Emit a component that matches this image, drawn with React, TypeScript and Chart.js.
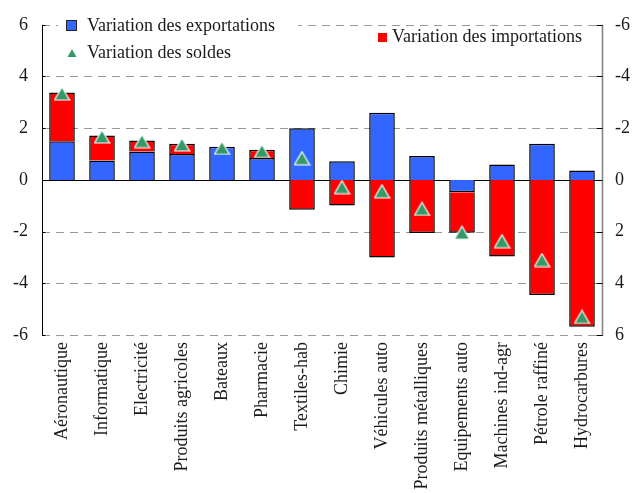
import React, { useEffect, useRef } from "react";
import { Chart, registerables } from "chart.js";

Chart.register(...registerables);

const categories = [
  "Aéronautique",
  "Informatique",
  "Electricité",
  "Produits agricoles",
  "Bateaux",
  "Pharmacie",
  "Textiles-hab",
  "Chimie",
  "Véhicules auto",
  "Produits métalliques",
  "Equipements auto",
  "Machines ind-agr",
  "Pétrole raffiné",
  "Hydrocarbures",
];

// Variation des exportations (left axis)
const exportations = [1.5, 0.75, 1.1, 1.0, 1.28, 0.85, 2.0, 0.72, 2.6, 0.92, -0.48, 0.6, 1.4, 0.36];
// Variation des importations (read on the reversed right axis: positive = increase)
const importations = [-1.88, -0.97, -0.42, -0.4, 0, -0.32, 1.15, 0.99, 3.0, 2.05, 1.56, 2.96, 4.45, 5.68];
// Variation des soldes
const soldes = [3.34, 1.68, 1.5, 1.37, 1.24, 1.12, 0.84, -0.28, -0.44, -1.12, -2.04, -2.37, -3.1, -5.3];

const leftTicks = [-6, -4, -2, 0, 2, 4, 6];

const BLUE = "#3366ff";
const RED = "#ff0000";
const GREEN = "#339966";
const FONT = "'Liberation Serif', 'Times New Roman', serif";

function makeTriangle(): HTMLCanvasElement {
  const c = document.createElement("canvas");
  c.width = 17;
  c.height = 15;
  const g = c.getContext("2d")!;
  g.beginPath();
  g.moveTo(8.5, 1);
  g.lineTo(16, 14);
  g.lineTo(1, 14);
  g.closePath();
  g.fillStyle = GREEN;
  g.fill();
  g.strokeStyle = "#ffffff";
  g.lineWidth = 1.2;
  g.stroke();
  return c;
}

const decorPlugin = {
  id: "decor",
  beforeDatasetsDraw(chart: any) {
    const { ctx, chartArea } = chart;
    const y = chart.scales.y;
    ctx.save();
    ctx.lineWidth = 1;
    for (const v of leftTicks) {
      const py = Math.round(y.getPixelForValue(v)) + 0.5;
      if (v === 0) continue;
      ctx.strokeStyle = "#999999";
      ctx.setLineDash([8, 6]);
      ctx.beginPath();
      ctx.moveTo(chartArea.left, py);
      ctx.lineTo(chartArea.right, py);
      ctx.stroke();
    }
    ctx.setLineDash([]);
    const z = Math.round(y.getPixelForValue(0)) + 0.5;
    ctx.strokeStyle = "#000";
    ctx.beginPath();
    ctx.moveTo(chartArea.left, z);
    ctx.lineTo(chartArea.right, z);
    ctx.stroke();
    ctx.restore();
  },
  afterDatasetsDraw(chart: any) {
    const { ctx, chartArea } = chart;
    const y = chart.scales.y;
    ctx.save();
    ctx.fillStyle = "#ffffff";
    ctx.fillRect(58, 12, 240, 54);
    const lx = Math.round(chartArea.left) + 0.5;
    ctx.strokeStyle = "#000";
    ctx.lineWidth = 1;
    ctx.beginPath();
    ctx.moveTo(lx, chartArea.top);
    ctx.lineTo(lx, chartArea.bottom + 1);
    ctx.stroke();
    const rx = Math.round(chartArea.right) + 0.5;
    ctx.strokeStyle = "#808080";
    ctx.lineWidth = 1.5;
    ctx.beginPath();
    ctx.moveTo(rx, chartArea.top);
    ctx.lineTo(rx, chartArea.bottom + 1);
    ctx.stroke();
    ctx.lineWidth = 1;
    ctx.strokeStyle = "#000";
    for (const v of leftTicks) {
      const py = Math.round(y.getPixelForValue(v)) + 0.5;
      ctx.beginPath();
      ctx.moveTo(lx, py);
      ctx.lineTo(lx + 3, py);
      ctx.stroke();
      ctx.beginPath();
      ctx.moveTo(rx - 6, py);
      ctx.lineTo(rx, py);
      ctx.stroke();
    }
    ctx.restore();
  },
  afterDraw(chart: any) {
    const { ctx } = chart;
    ctx.save();
    ctx.font = `18px ${FONT}`;
    ctx.textBaseline = "middle";
    ctx.fillStyle = BLUE;
    ctx.fillRect(66, 20, 11, 11);
    ctx.strokeStyle = "#222";
    ctx.lineWidth = 1;
    ctx.strokeRect(66.5, 20.5, 10, 10);
    ctx.fillStyle = "#1a1a1a";
    ctx.fillText("Variation des exportations", 87, 26);
    ctx.fillStyle = GREEN;
    ctx.beginPath();
    ctx.moveTo(72, 49);
    ctx.lineTo(76.5, 57);
    ctx.lineTo(67.5, 57);
    ctx.closePath();
    ctx.fill();
    ctx.fillStyle = "#1a1a1a";
    ctx.fillText("Variation des soldes", 87, 53);
    ctx.fillStyle = RED;
    ctx.fillRect(378, 33, 9, 9);
    ctx.fillStyle = "#1a1a1a";
    ctx.fillText("Variation des importations", 392, 37);
    ctx.restore();
  },
};

export default function App() {
  const ref = useRef<HTMLCanvasElement | null>(null);

  useEffect(() => {
    if (!ref.current) return;
    const tri = makeTriangle();
    const chart = new Chart(ref.current, {
      type: "bar",
      data: {
        labels: categories,
        datasets: [
          {
            type: "bar",
            label: "Variation des exportations",
            data: exportations,
            backgroundColor: BLUE,
            borderColor: "#000",
            borderWidth: 1.5,
            barPercentage: 0.64,
            categoryPercentage: 1,
            yAxisID: "y",
            order: 0,
          },
          {
            type: "bar",
            label: "Variation des importations",
            data: importations.map((v) => -v),
            backgroundColor: RED,
            borderColor: "#000",
            borderWidth: 1.5,
            barPercentage: 0.64,
            categoryPercentage: 1,
            yAxisID: "y",
            order: 0,
          },
          {
            type: "line",
            label: "Variation des soldes",
            data: soldes,
            showLine: false,
            pointStyle: tri,
            pointRadius: 8,
            yAxisID: "y",
            stack: "soldes",
            order: -1,
          } as any,
        ],
      },
      options: {
        animation: false,
        responsive: false,
        devicePixelRatio: 1,
        layout: { padding: { top: 23, left: 0, right: 0, bottom: 0 } },
        plugins: {
          legend: { display: false },
          tooltip: { enabled: false },
        },
        scales: {
          x: {
            stacked: true,
            grid: { display: false, drawTicks: false },
            border: { display: false },
            ticks: {
              minRotation: 90,
              maxRotation: 90,
              autoSkip: false,
              padding: 7,
              color: "#1a1a1a",
              font: { family: FONT, size: 18 },
            },
            afterFit: (s: any) => {
              s.height = 158;
            },
          },
          y: {
            type: "linear",
            position: "left",
            stacked: true,
            min: -6,
            max: 6,
            grid: { display: false, drawTicks: false },
            border: { display: false },
            ticks: {
              stepSize: 2,
              padding: 14,
              color: "#1a1a1a",
              font: { family: FONT, size: 18 },
            },
            afterFit: (s: any) => {
              s.width = 42;
            },
          },
          y2: {
            type: "linear",
            position: "right",
            reverse: true,
            min: -6,
            max: 6,
            grid: { display: false, drawTicks: false },
            border: { display: false },
            ticks: {
              stepSize: 2,
              padding: 13,
              color: "#1a1a1a",
              font: { family: FONT, size: 18 },
            },
            afterFit: (s: any) => {
              s.width = 30;
            },
          },
        },
      },
      plugins: [decorPlugin],
    });
    return () => chart.destroy();
  }, []);

  return (
    <div style={{ position: "fixed", left: 0, top: 0, width: 632, height: 493, background: "#fff" }}>
      <canvas ref={ref} width={632} height={493} />
    </div>
  );
}
